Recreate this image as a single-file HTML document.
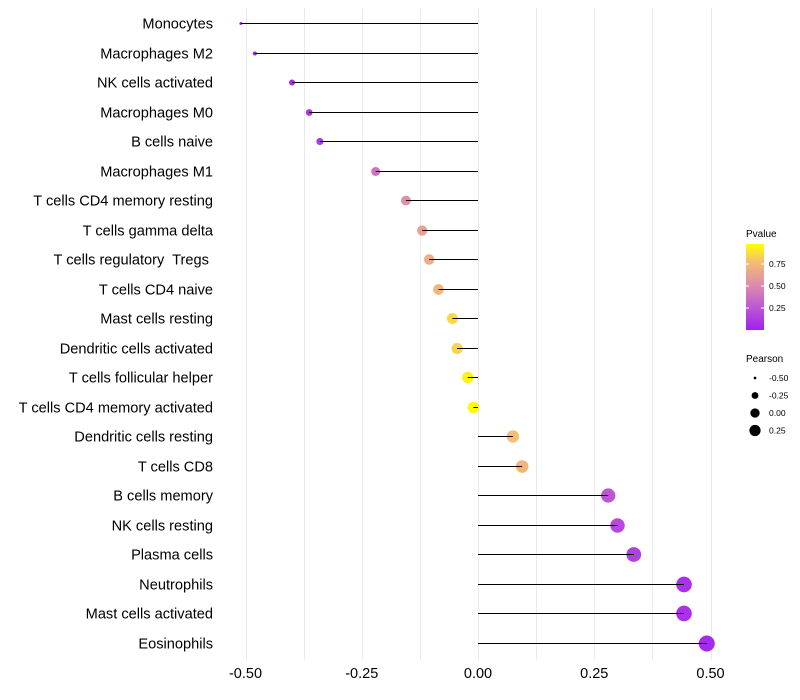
<!DOCTYPE html>
<html><head><meta charset="utf-8"><style>
body{margin:0;background:#fff;}
svg{display:block;font-family:"Liberation Sans",sans-serif;}
</style></head><body>
<svg id="chart" width="800" height="700">
<defs><linearGradient id="pg" x1="0" y1="1" x2="0" y2="0">
<stop offset="0" stop-color="#a020f0"/><stop offset="0.3" stop-color="#c060d0"/><stop offset="0.55" stop-color="#e090a8"/><stop offset="0.8" stop-color="#f5c070"/><stop offset="1" stop-color="#ffff00"/>
</linearGradient></defs>
</svg>
<script>
const categories=["Monocytes","Macrophages M2","NK cells activated","Macrophages M0","B cells naive","Macrophages M1","T cells CD4 memory resting","T cells gamma delta","T cells regulatory  Tregs ","T cells CD4 naive","Mast cells resting","Dendritic cells activated","T cells follicular helper","T cells CD4 memory activated","Dendritic cells resting","T cells CD8","B cells memory","NK cells resting","Plasma cells","Neutrophils","Mast cells activated","Eosinophils"];
const pearson=[-0.51,-0.48,-0.40,-0.363,-0.34,-0.22,-0.155,-0.12,-0.105,-0.085,-0.055,-0.045,-0.022,-0.01,0.075,0.095,0.28,0.30,0.335,0.443,0.443,0.492];
const pvalues=[0.02,0.03,0.07,0.10,0.12,0.40,0.55,0.65,0.70,0.75,0.88,0.86,0.96,0.98,0.80,0.75,0.25,0.20,0.15,0.08,0.08,0.05];
const xTicks=[-0.5,-0.25,0,0.25,0.5];
const xTickLabels=["-0.50","-0.25","0.00","0.25","0.50"];
const sizeLegend=[-0.5,-0.25,0,0.25];
const pvTicks=[0.25,0.5,0.75];

const NS="http://www.w3.org/2000/svg";
const svg=document.getElementById("chart");
function mk(t,a,p){const e=document.createElementNS(NS,t);for(const k in a)e.setAttribute(k,a[k]);(p||svg).appendChild(e);return e;}
const x=v=>478+v*465;
const y=i=>Math.round(23+i*29.5)+0.5;
const r=v=>Math.sqrt(2.25+61.75*(v+0.51));
function lerp(a,b,t){return a.map((c,i)=>Math.round(c+(b[i]-c)*t));}
const stops=[[0,[160,32,240]],[0.3,[192,96,208]],[0.55,[224,144,168]],[0.8,[245,192,112]],[1,[255,255,0]]];
function col(p){for(let i=1;i<stops.length;i++){if(p<=stops[i][0]){const t=(p-stops[i-1][0])/(stops[i][0]-stops[i-1][0]);return "rgb("+lerp(stops[i-1][1],stops[i][1],t).join(",")+")";}}return "rgb(255,255,0)";}
for(let v=-0.5;v<=0.501;v+=0.125){
 const g=mk("line",{x1:Math.round(x(v))+0.5,x2:Math.round(x(v))+0.5,y1:8,y2:660,stroke:"#ebebeb","stroke-width":1});
 
 
}
xTicks.forEach((v,i)=>{
 const t=mk("text",{x:x(v),y:678,"font-size":14.5,"text-anchor":"middle",fill:"#000"});
 t.textContent=xTickLabels[i];
 
 
});
categories.forEach((c,i)=>{
 const t=mk("text",{x:213,y:y(i)+5,"font-size":14.6,"text-anchor":"end",fill:"#000"});
 t.setAttributeNS("http://www.w3.org/XML/1998/namespace","xml:space","preserve");
 t.style.whiteSpace="pre";
 t.textContent=c;
 
 
 const d=mk("circle",{cx:x(pearson[i]),cy:y(i),r:r(pearson[i]),fill:col(pvalues[i])});
 
 
 const l=mk("line",{x1:x(0),x2:x(pearson[i]),y1:y(i),y2:y(i),stroke:"#000","stroke-width":1});
 
 
});
let t=mk("text",{x:746,y:237,"font-size":10});t.textContent="Pvalue";


const bar=mk("rect",{x:746,y:244,width:18,height:86,fill:"url(#pg)"});


const pv=v=>330-v*88;
pvTicks.forEach(v=>{
 mk("line",{x1:746,x2:749,y1:pv(v),y2:pv(v),stroke:"#fff"});mk("line",{x1:761,x2:764,y1:pv(v),y2:pv(v),stroke:"#fff"});
 const tt=mk("text",{x:769,y:pv(v)+3,"font-size":8.5});tt.textContent=v.toFixed(2);
 
 
});
t=mk("text",{x:746,y:362,"font-size":10});t.textContent="Pearson";


sizeLegend.forEach((v,i)=>{
 const yy=378+i*17.5;
 const c=mk("circle",{cx:755,cy:yy,r:r(v)*0.8,fill:"#000"});
 
 
 const tt=mk("text",{x:769,y:yy+3,"font-size":8.5});tt.textContent=v.toFixed(2);
 
 
});
</script>
</body></html>
